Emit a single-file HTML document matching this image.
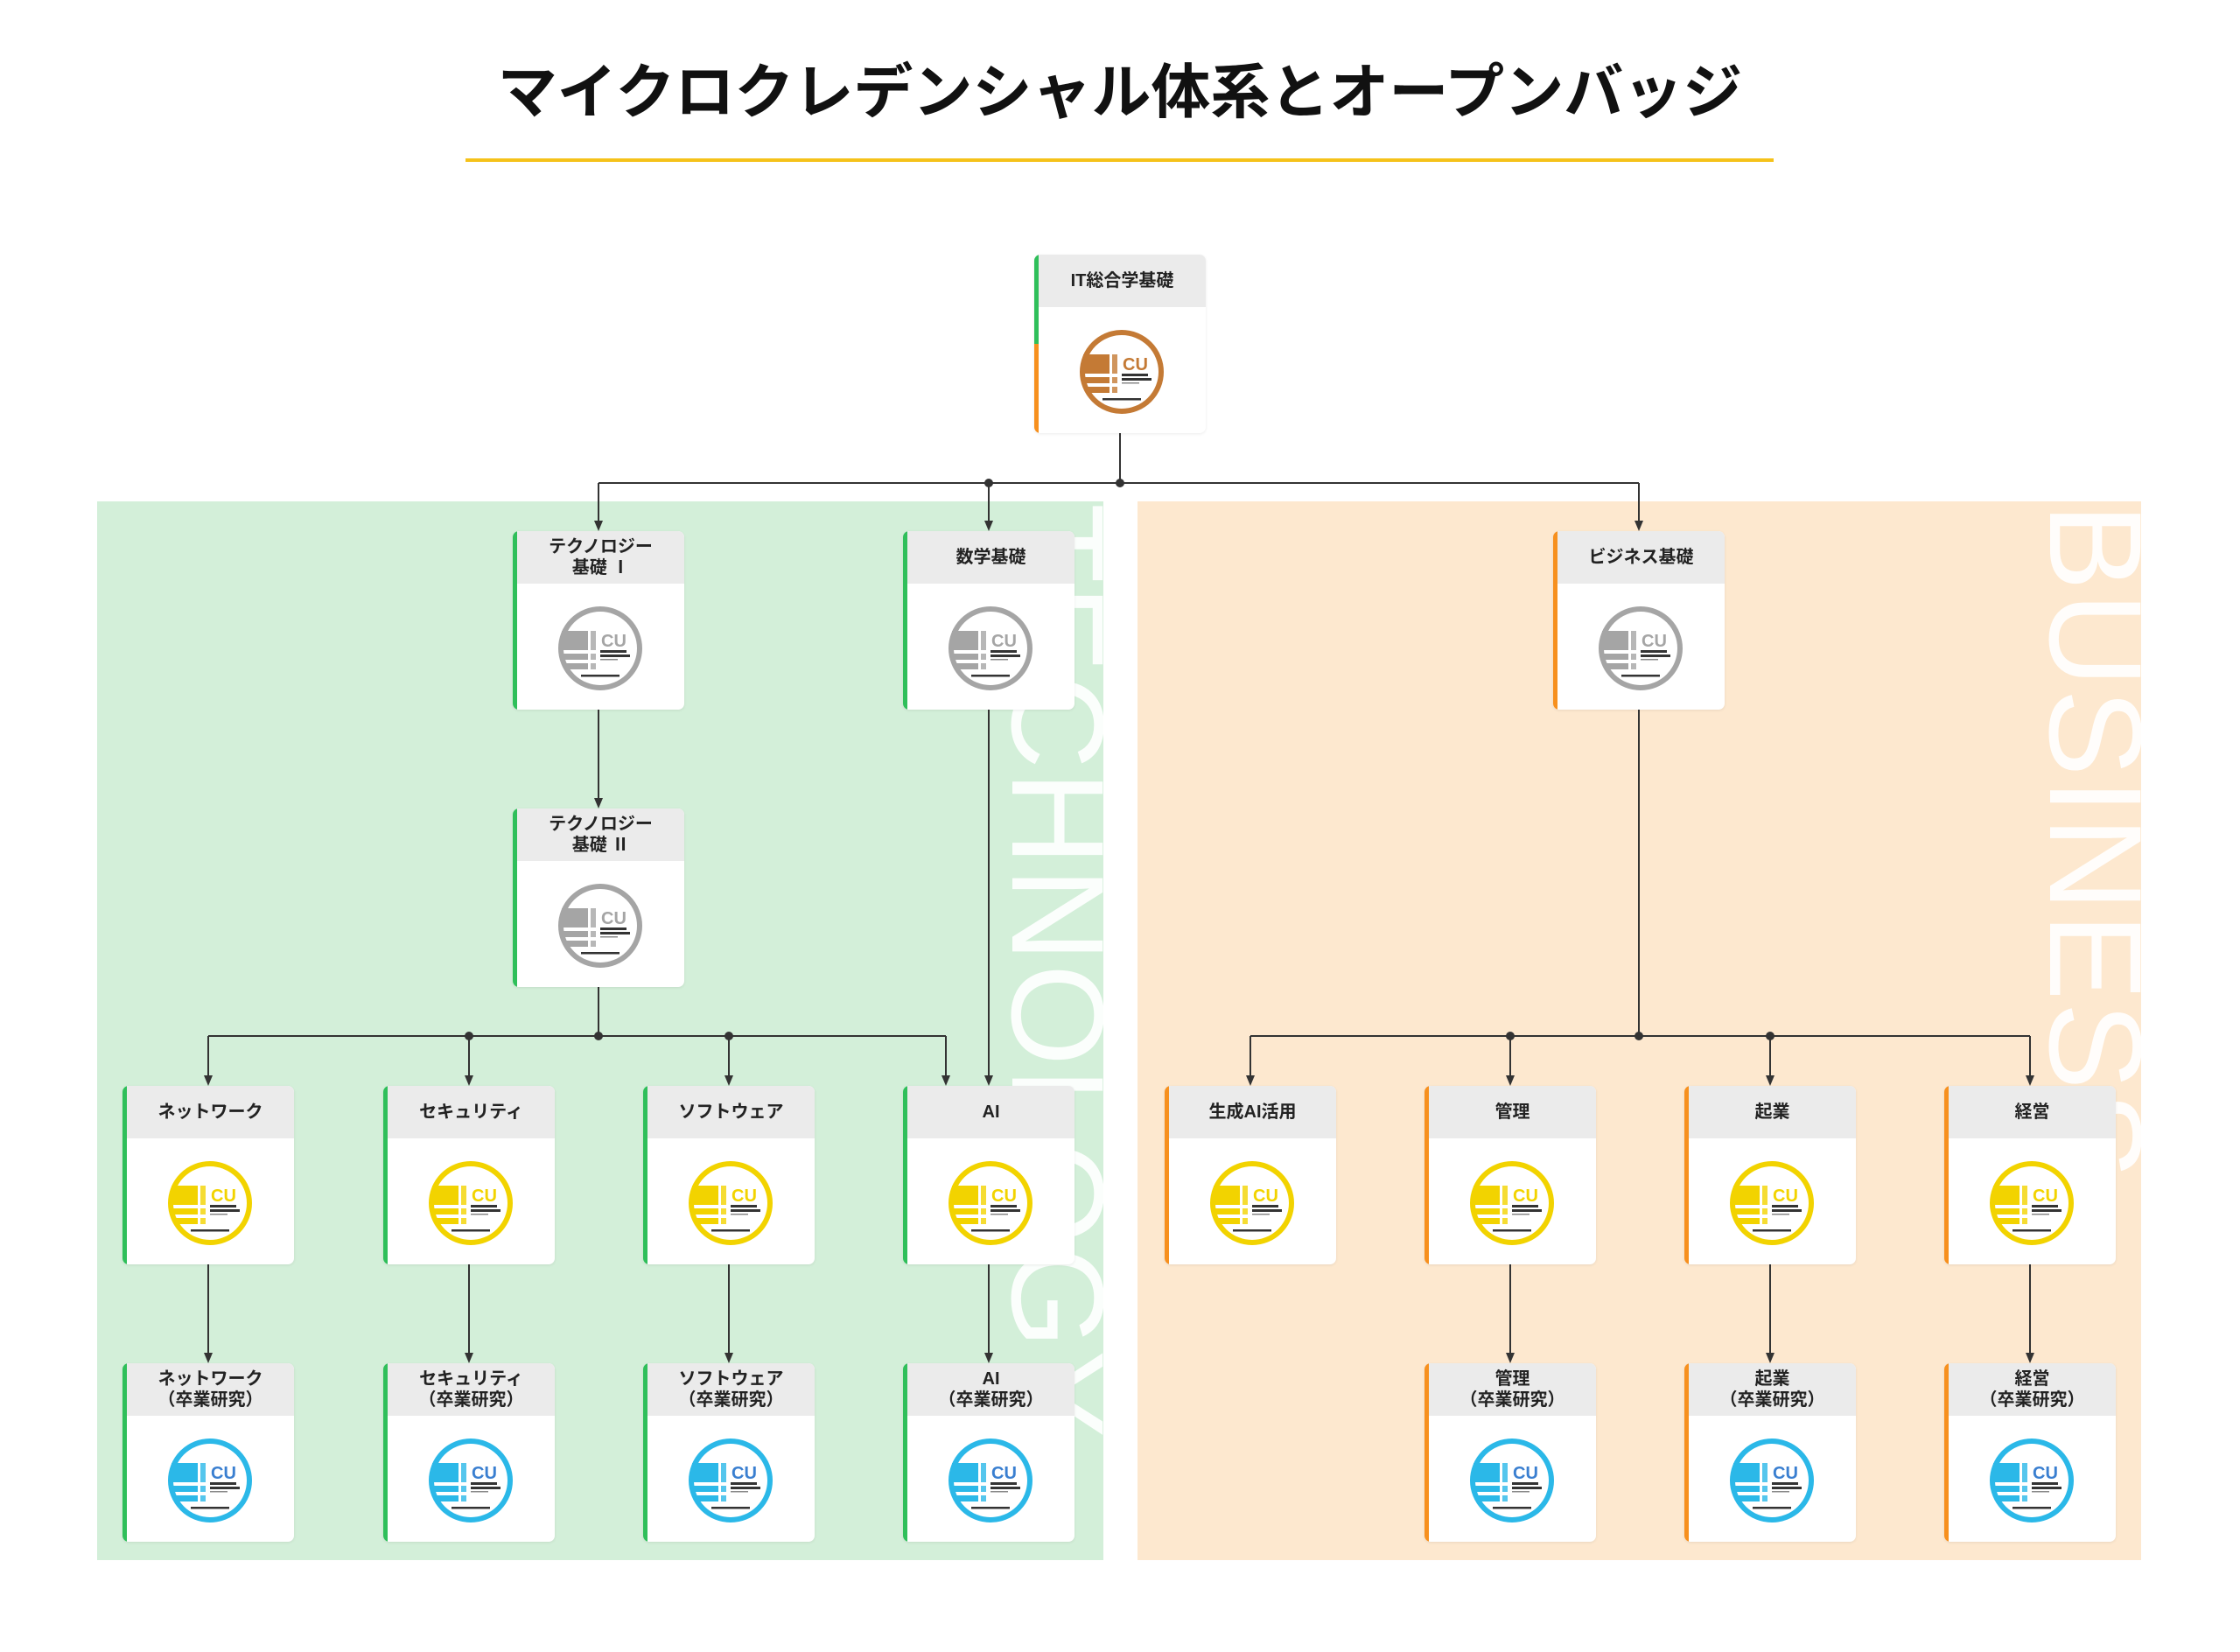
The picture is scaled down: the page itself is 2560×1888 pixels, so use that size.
<!DOCTYPE html>
<html><head><meta charset="utf-8">
<style>
*{margin:0;padding:0;box-sizing:border-box}
body{width:2560px;height:1888px;background:#fff;position:relative;overflow:hidden;font-family:"Liberation Sans","Noto Sans CJK JP",sans-serif}
.title{position:absolute;left:0;width:2560px;top:62px;text-align:center;font-size:68px;font-weight:bold;color:#111;line-height:88px;letter-spacing:0px}
.uline{position:absolute;left:532px;top:181px;width:1495px;height:4px;background:#f5c21a}
.reg{position:absolute}
.card{position:absolute;width:196px;height:204px;background:#fff;border-radius:7px;overflow:hidden;box-shadow:0 1px 3px rgba(0,0,0,.08)}
.card::before{content:"";position:absolute;left:0;top:0;bottom:0;width:5px;z-index:2}
.g::before{background:#2fbf5a}
.o::before{background:#f7901e}
.s::before{background:linear-gradient(#2fbf5a 0,#2fbf5a 50%,#f7901e 50%,#f7901e 100%)}
.hd{position:absolute;left:5px;top:0;width:191px;height:60px;background:#ebebeb;display:flex;align-items:center;justify-content:center;text-align:center;font-size:20px;font-weight:bold;color:#222;line-height:24px}
.bd{position:absolute;left:50px;top:84px;width:100px;height:100px}
</style></head><body>
<svg width="0" height="0" style="position:absolute">
<defs>
<symbol id="bdg" viewBox="0 0 100 100">
<circle cx="50" cy="50" r="45" fill="none" stroke="currentColor" stroke-width="6"/>
<path d="M6 30 H36 V52 H6 Z" fill="currentColor"/>
<rect x="39" y="30" width="6" height="22" fill="currentColor" opacity=".8"/>
<rect x="6" y="56" width="30" height="7" fill="currentColor"/>
<rect x="39" y="56" width="6" height="7" fill="currentColor" opacity=".8"/>
<rect x="9" y="67" width="27" height="7" fill="currentColor"/>
<rect x="39" y="67" width="6" height="7" fill="currentColor" opacity=".8"/>
<rect x="50" y="52" width="30" height="3" fill="#333"/>
<rect x="50" y="57" width="34" height="3" fill="#333"/>
<rect x="50" y="62" width="20" height="1.5" fill="#888"/>
<rect x="28" y="80" width="44" height="2.5" fill="#333"/>
</symbol>
</defs></svg>

<div class="title">マイクロクレデンシャル体系とオープンバッジ</div>
<div class="uline"></div>

<svg class="reg" style="left:0;top:0" width="2560" height="1888">
<defs>
<clipPath id="cg"><rect x="111" y="573" width="1150" height="1210"/></clipPath>
<clipPath id="co"><rect x="1300" y="573" width="1147" height="1210"/></clipPath>
</defs>
<rect x="111" y="573" width="1150" height="1210" fill="#d3efd9"/>
<rect x="1300" y="573" width="1147" height="1210" fill="#fde8cf"/>
<g clip-path="url(#cg)"><text transform="translate(1157,575) rotate(90)" font-family="Liberation Sans, sans-serif" font-size="150" fill="#fff" fill-opacity=".9" letter-spacing="2">TECHNOLOGY</text></g>
<g clip-path="url(#co)"><text transform="translate(2343,575) rotate(90)" font-family="Liberation Sans, sans-serif" font-size="150" fill="#fff" fill-opacity=".9" letter-spacing="2">BUSINESS</text></g>
<g stroke="#333" stroke-width="2" fill="none">
<path d="M1280 495V552M684 552H1873M684 552V600M1130 552V600M1873 552V600"/>
<path d="M684 811V917"/>
<path d="M684 1128V1184M238 1184H1081M238 1184V1234M536 1184V1234M833 1184V1234M1081 1184V1234"/>
<path d="M1130 811V1234"/>
<path d="M1873 811V1184M1429 1184H2320M1429 1184V1234M1726 1184V1234M2023 1184V1234M2320 1184V1234"/>
<path d="M238 1445V1551M536 1445V1551M833 1445V1551M1130 1445V1551M1726 1445V1551M2023 1445V1551M2320 1445V1551"/>
</g>
<g fill="#333">
<circle cx="1280" cy="552" r="5"/><circle cx="1130" cy="552" r="5"/>
<circle cx="536" cy="1184" r="5"/><circle cx="684" cy="1184" r="5"/><circle cx="833" cy="1184" r="5"/>
<circle cx="1726" cy="1184" r="5"/><circle cx="1873" cy="1184" r="5"/><circle cx="2023" cy="1184" r="5"/>
<path d="M679 595L689 595L684 607Z M1125 595L1135 595L1130 607Z M1868 595L1878 595L1873 607Z"/>
<path d="M679 912L689 912L684 924Z"/>
<path d="M233 1229L243 1229L238 1241Z M531 1229L541 1229L536 1241Z M828 1229L838 1229L833 1241Z M1076 1229L1086 1229L1081 1241Z M1125 1229L1135 1229L1130 1241Z"/>
<path d="M1424 1229L1434 1229L1429 1241Z M1721 1229L1731 1229L1726 1241Z M2018 1229L2028 1229L2023 1241Z M2315 1229L2325 1229L2320 1241Z"/>
<path d="M233 1546L243 1546L238 1558Z M531 1546L541 1546L536 1558Z M828 1546L838 1546L833 1558Z M1125 1546L1135 1546L1130 1558Z M1721 1546L1731 1546L1726 1558Z M2018 1546L2028 1546L2023 1558Z M2315 1546L2325 1546L2320 1558Z"/>
</g>
</svg>

<div class="card s" style="left:1182px;top:291px"><div class="hd">IT総合学基礎</div><svg class="bd" viewBox="0 0 100 100" style="color:#c47a35"><use href="#bdg"/><text x="51" y="48" font-size="20" font-weight="bold" fill="currentColor" font-family="Liberation Sans">CU</text></svg></div>
<div class="card g" style="left:586px;top:607px"><div class="hd">テクノロジー<br>基礎 Ⅰ</div><svg class="bd" viewBox="0 0 100 100" style="color:#a5a5a5"><use href="#bdg"/><text x="51" y="48" font-size="20" font-weight="bold" fill="currentColor" font-family="Liberation Sans">CU</text></svg></div>
<div class="card g" style="left:1032px;top:607px"><div class="hd">数学基礎</div><svg class="bd" viewBox="0 0 100 100" style="color:#a5a5a5"><use href="#bdg"/><text x="51" y="48" font-size="20" font-weight="bold" fill="currentColor" font-family="Liberation Sans">CU</text></svg></div>
<div class="card o" style="left:1775px;top:607px"><div class="hd">ビジネス基礎</div><svg class="bd" viewBox="0 0 100 100" style="color:#a5a5a5"><use href="#bdg"/><text x="51" y="48" font-size="20" font-weight="bold" fill="currentColor" font-family="Liberation Sans">CU</text></svg></div>
<div class="card g" style="left:586px;top:924px"><div class="hd">テクノロジー<br>基礎 Ⅱ</div><svg class="bd" viewBox="0 0 100 100" style="color:#a5a5a5"><use href="#bdg"/><text x="51" y="48" font-size="20" font-weight="bold" fill="currentColor" font-family="Liberation Sans">CU</text></svg></div>
<div class="card g" style="left:140px;top:1241px"><div class="hd">ネットワーク</div><svg class="bd" viewBox="0 0 100 100" style="color:#f2d300"><use href="#bdg"/><text x="51" y="48" font-size="20" font-weight="bold" fill="currentColor" font-family="Liberation Sans">CU</text></svg></div>
<div class="card g" style="left:438px;top:1241px"><div class="hd">セキュリティ</div><svg class="bd" viewBox="0 0 100 100" style="color:#f2d300"><use href="#bdg"/><text x="51" y="48" font-size="20" font-weight="bold" fill="currentColor" font-family="Liberation Sans">CU</text></svg></div>
<div class="card g" style="left:735px;top:1241px"><div class="hd">ソフトウェア</div><svg class="bd" viewBox="0 0 100 100" style="color:#f2d300"><use href="#bdg"/><text x="51" y="48" font-size="20" font-weight="bold" fill="currentColor" font-family="Liberation Sans">CU</text></svg></div>
<div class="card g" style="left:1032px;top:1241px"><div class="hd">AI</div><svg class="bd" viewBox="0 0 100 100" style="color:#f2d300"><use href="#bdg"/><text x="51" y="48" font-size="20" font-weight="bold" fill="currentColor" font-family="Liberation Sans">CU</text></svg></div>
<div class="card o" style="left:1331px;top:1241px"><div class="hd">生成AI活用</div><svg class="bd" viewBox="0 0 100 100" style="color:#f2d300"><use href="#bdg"/><text x="51" y="48" font-size="20" font-weight="bold" fill="currentColor" font-family="Liberation Sans">CU</text></svg></div>
<div class="card o" style="left:1628px;top:1241px"><div class="hd">管理</div><svg class="bd" viewBox="0 0 100 100" style="color:#f2d300"><use href="#bdg"/><text x="51" y="48" font-size="20" font-weight="bold" fill="currentColor" font-family="Liberation Sans">CU</text></svg></div>
<div class="card o" style="left:1925px;top:1241px"><div class="hd">起業</div><svg class="bd" viewBox="0 0 100 100" style="color:#f2d300"><use href="#bdg"/><text x="51" y="48" font-size="20" font-weight="bold" fill="currentColor" font-family="Liberation Sans">CU</text></svg></div>
<div class="card o" style="left:2222px;top:1241px"><div class="hd">経営</div><svg class="bd" viewBox="0 0 100 100" style="color:#f2d300"><use href="#bdg"/><text x="51" y="48" font-size="20" font-weight="bold" fill="currentColor" font-family="Liberation Sans">CU</text></svg></div>
<div class="card g" style="left:140px;top:1558px"><div class="hd">ネットワーク<br>（卒業研究）</div><svg class="bd" viewBox="0 0 100 100" style="color:#2bb8e8"><use href="#bdg"/><text x="51" y="48" font-size="20" font-weight="bold" fill="#3a7fd0" font-family="Liberation Sans">CU</text></svg></div>
<div class="card g" style="left:438px;top:1558px"><div class="hd">セキュリティ<br>（卒業研究）</div><svg class="bd" viewBox="0 0 100 100" style="color:#2bb8e8"><use href="#bdg"/><text x="51" y="48" font-size="20" font-weight="bold" fill="#3a7fd0" font-family="Liberation Sans">CU</text></svg></div>
<div class="card g" style="left:735px;top:1558px"><div class="hd">ソフトウェア<br>（卒業研究）</div><svg class="bd" viewBox="0 0 100 100" style="color:#2bb8e8"><use href="#bdg"/><text x="51" y="48" font-size="20" font-weight="bold" fill="#3a7fd0" font-family="Liberation Sans">CU</text></svg></div>
<div class="card g" style="left:1032px;top:1558px"><div class="hd">AI<br>（卒業研究）</div><svg class="bd" viewBox="0 0 100 100" style="color:#2bb8e8"><use href="#bdg"/><text x="51" y="48" font-size="20" font-weight="bold" fill="#3a7fd0" font-family="Liberation Sans">CU</text></svg></div>
<div class="card o" style="left:1628px;top:1558px"><div class="hd">管理<br>（卒業研究）</div><svg class="bd" viewBox="0 0 100 100" style="color:#2bb8e8"><use href="#bdg"/><text x="51" y="48" font-size="20" font-weight="bold" fill="#3a7fd0" font-family="Liberation Sans">CU</text></svg></div>
<div class="card o" style="left:1925px;top:1558px"><div class="hd">起業<br>（卒業研究）</div><svg class="bd" viewBox="0 0 100 100" style="color:#2bb8e8"><use href="#bdg"/><text x="51" y="48" font-size="20" font-weight="bold" fill="#3a7fd0" font-family="Liberation Sans">CU</text></svg></div>
<div class="card o" style="left:2222px;top:1558px"><div class="hd">経営<br>（卒業研究）</div><svg class="bd" viewBox="0 0 100 100" style="color:#2bb8e8"><use href="#bdg"/><text x="51" y="48" font-size="20" font-weight="bold" fill="#3a7fd0" font-family="Liberation Sans">CU</text></svg></div>
</body></html>
